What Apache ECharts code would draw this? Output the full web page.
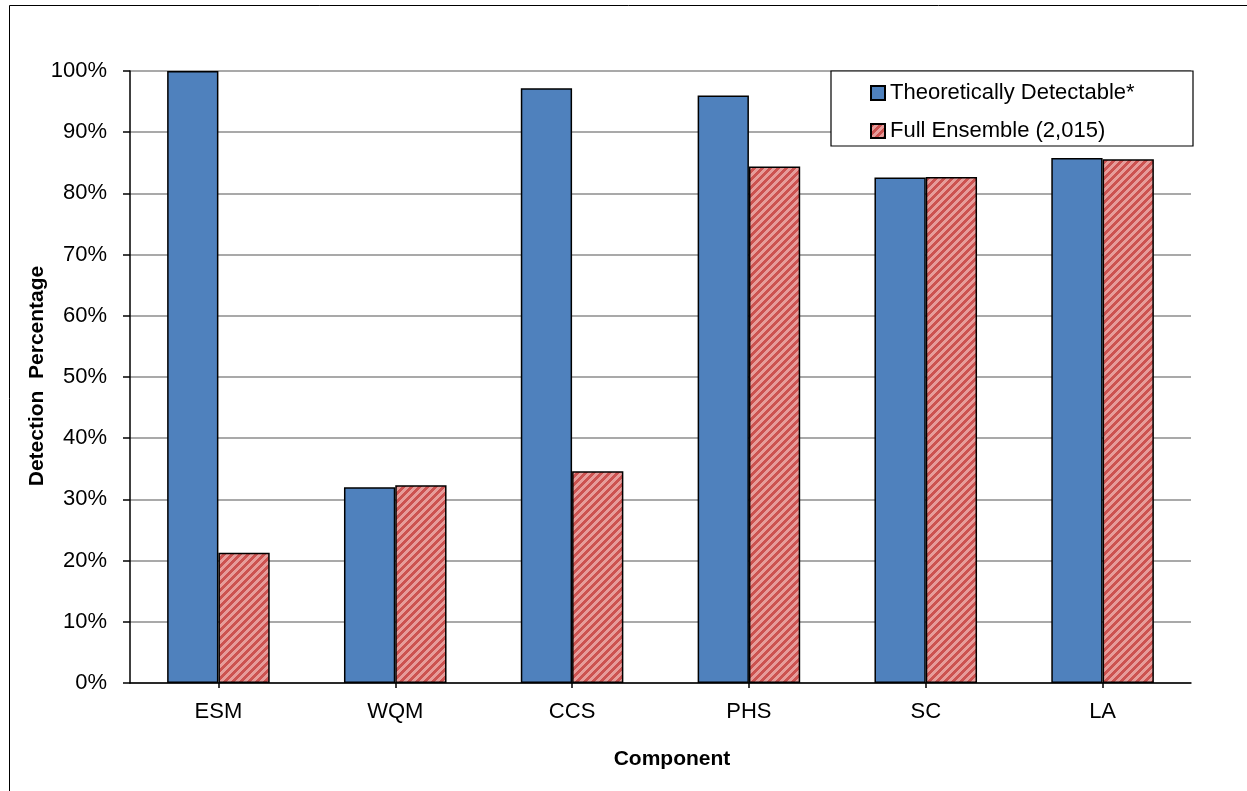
<!DOCTYPE html>
<html>
<head>
<meta charset="utf-8">
<script src="https://cdn.jsdelivr.net/npm/echarts@6/dist/echarts.min.js"></script>
<style>
html,body{margin:0;padding:0;background:#fff;}
#chart{width:1247px;height:791px;}
</style>
</head>
<body>
<div id="chart"></div>
<script>
var categories = ['ESM', 'WQM', 'CCS', 'PHS', 'SC', 'LA'];
var theoretical = [100, 32.0, 97.2, 96.0, 82.6, 85.8];
var fullEnsemble = [21.3, 32.3, 34.6, 84.4, 82.7, 85.6];
var seriesNames = ['Theoretically Detectable*', 'Full Ensemble (2,015)'];
var yTicks = [0, 10, 20, 30, 40, 50, 60, 70, 80, 90, 100];

function makeHatch() {
  var n = 8;
  var c = document.createElement('canvas');
  c.width = n; c.height = n;
  var ctx = c.getContext('2d');
  var img = ctx.createImageData(n, n);
  for (var y = 0; y < n; y++) {
    for (var x = 0; x < n; x++) {
      var i = (y * n + x) * 4;
      var dark = ((x + y) % n) < 4;
      if (dark) { img.data[i] = 204; img.data[i+1] = 82; img.data[i+2] = 80; }
      else { img.data[i] = 230; img.data[i+1] = 156; img.data[i+2] = 154; }
      img.data[i+3] = 255;
    }
  }
  ctx.putImageData(img, 0, 0);
  return c;
}

var chart = echarts.init(document.getElementById('chart'), null, {renderer: 'canvas'});
var font = 'Liberation Sans, Arial, sans-serif';

chart.setOption({
  animation: false,
  backgroundColor: '#fff',
  textStyle: {fontFamily: font},
  grid: {left: 130, right: 56, top: 71, bottom: 108, containLabel: false},
  legend: {
    orient: 'vertical',
    left: 865, top: 77,
    z: 10,
    itemWidth: 14, itemHeight: 14,
    itemGap: 16,
    icon: 'rect',
    textStyle: {fontFamily: font, fontSize: 22, color: '#000', lineHeight: 22},
    data: seriesNames
  },
  graphic: [
    {type: 'rect', left: 7, top: 3, shape: {width: 1400, height: 1000}, style: {fill: 'none', stroke: '#000', lineWidth: 1}, z: -1, silent: true},
    {type: 'rect', x: 831, y: 71, shape: {width: 362, height: 75}, style: {fill: '#fff', stroke: '#000', lineWidth: 1.2}, z: 3},
    {type: 'text', x: 672, y: 759, style: {text: 'Component', font: 'bold 21px ' + font, fill: '#000', align: 'center', verticalAlign: 'middle'}},
    {type: 'text', x: 37, y: 376, rotation: Math.PI / 2, style: {text: 'Detection  Percentage', font: 'bold 21px ' + font, fill: '#000', align: 'center', verticalAlign: 'middle'}}
  ],
  xAxis: {
    type: 'category',
    data: categories,
    boundaryGap: true,
    axisLine: {lineStyle: {color: '#000', width: 1.5}},
    axisTick: {show: true, alignWithLabel: true, length: 5, lineStyle: {color: '#000', width: 1.5}},
    axisLabel: {color: '#000', fontSize: 22, fontFamily: font, margin: 18}
  },
  yAxis: {
    type: 'value',
    min: 0, max: 100, interval: 10,
    axisLine: {show: true, lineStyle: {color: '#000', width: 1.5}},
    axisTick: {show: true, length: 7, lineStyle: {color: '#000', width: 1.5}},
    axisLabel: {color: '#000', fontSize: 22, fontFamily: font, margin: 23,
      formatter: function (v) { return yTicks.indexOf(v) >= 0 ? v + '%' : ''; }},
    splitLine: {show: true, lineStyle: {color: '#8c8c8c', width: 1.5}}
  },
  series: [
    {
      name: seriesNames[0], type: 'bar', data: theoretical,
      barGap: '0%', barCategoryGap: '42%',
      itemStyle: {color: '#4f81bd', borderColor: '#000', borderWidth: 1.5}
    },
    {
      name: seriesNames[1], type: 'bar', data: fullEnsemble,
      itemStyle: {color: {image: makeHatch(), repeat: 'repeat'}, borderColor: '#000', borderWidth: 1.5}
    }
  ]
});
</script>
</body>
</html>
